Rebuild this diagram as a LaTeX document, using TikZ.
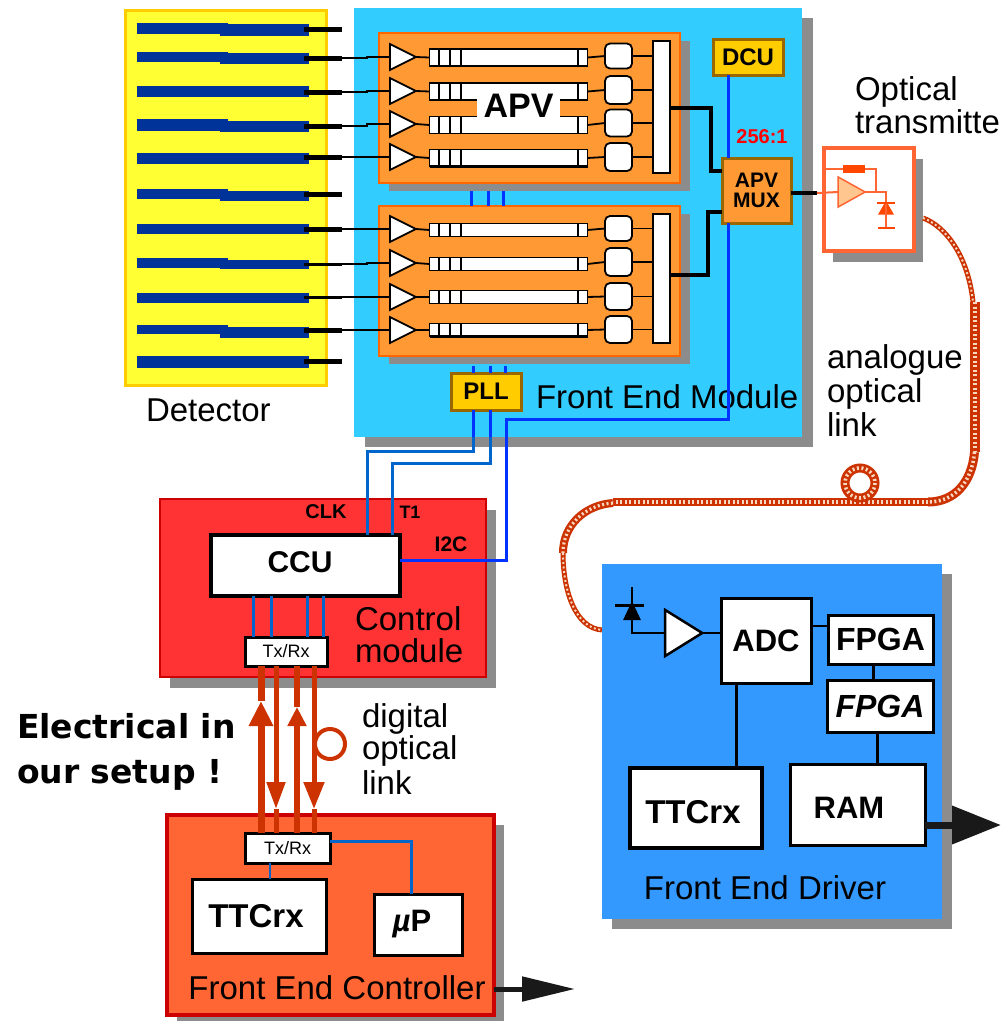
\documentclass[tikz,border=0pt]{standalone}
\usepackage{fontspec}
\setmainfont{Liberation Sans}
\newfontfamily\labelfont{DejaVu Sans}
\usetikzlibrary{arrows.meta,shadows,shapes.geometric,calc}
\definecolor{shadowgray}{HTML}{8C8C8C}
\definecolor{yellowbg}{HTML}{FFFF33}
\definecolor{goldbg}{HTML}{FFCC00}
\definecolor{brownline}{HTML}{996600}
\definecolor{stripblue}{HTML}{003399}
\definecolor{modulebg}{HTML}{33CCFF}
\definecolor{orangebg}{HTML}{FF9933}
\definecolor{orangeline}{HTML}{FF6600}
\definecolor{txline}{HTML}{FF6633}
\definecolor{busblue}{HTML}{0033FF}
\definecolor{ctrlblue}{HTML}{0066CC}
\definecolor{fiber}{HTML}{CC3300}
\definecolor{fiberdot}{HTML}{F8D8C0}
\definecolor{driverbg}{HTML}{3399FF}
\tikzset{
  every node/.style={inner sep=0pt,outer sep=0pt},
  boxsize/.style 2 args={minimum width=#1pt,minimum height=#2pt},
  shade/.style 2 args={drop shadow={shadow xshift=#1pt,shadow yshift=-#2pt,fill=shadowgray,opacity=1}},
  txt/.style={font=\fontsize{33}{33}\selectfont},
  bold/.style={font=\fontsize{#1}{#1}\selectfont\bfseries},
  block/.style={rectangle,draw=black,fill=white,line width=3pt},
  gold/.style={rectangle,draw=brownline,fill=goldbg,line width=3pt},
  apvbox/.style={rectangle,draw=orangeline,fill=orangebg,line width=2pt,boxsize={301}{150},shade={10}{8}},
  amp/.style={isosceles triangle,isosceles triangle stretches,draw=black,fill=white,line width=1.8pt},
  wire/.style={draw=black,line width=1.8pt},
  bus/.style={draw=busblue,line width=3pt},
  ctrl/.style={draw=ctrlblue,line width=3pt},
  link/.style={draw=fiber,line width=#1pt},
  fiberline/.style={draw=fiber,line width=#1pt,
    postaction={draw=fiberdot,line width=0.4*#1 pt,dash pattern=on 2pt off 2.5pt}},
}
\begin{document}
\begin{tikzpicture}[x=1pt,y=-1pt]
\useasboundingbox (0,0) rectangle (1001,1021);
% detector
\node[rectangle,draw=goldbg,fill=yellowbg,line width=3pt,boxsize={201}{375}] (detector) at (225.5,197.5) {};
\node[txt,anchor=base west] (detectorlabel) at (146,421) {Detector};
\foreach \yl/\hl/\yr/\hr/\ys/\ws [count=\i] in {
  28.5/11/30/12/29/5, 57/10/58.5/11/58/5, 91.5/11/91.5/11/92/5, 125/12/126.5/11/126/5,
  158.5/11/158.5/11/157/5, 194/10/196/10/194/5, 229/10/229/10/229/5, 263/10/264.5/9/264/3,
  298/10/298/10/297/3, 329.5/9/332.5/11/330/5, 362/12/362/12/361/5}{
  \fill[stripblue] (137,\yl-\hl/2) rectangle (228,\yl+\hl/2);
  \node[fill=stripblue,boxsize={89}{\hr}] (strip\i) at (264.5,\yr) {};
  \node[fill=black,boxsize={38}{\ws}] (stub\i) at (323,\ys) {};
}
% front end module
\node[rectangle,fill=modulebg,boxsize={448}{429},shade={11}{10}] (module) at (578,222.5) {};
\node[txt,anchor=base west] (modulelabel) at (536,408) {Front End Module};
\node[apvbox] (apvtop) at (529.5,108) {};
\node[apvbox] (apvbot) at (529.5,280.5) {};
\node[rectangle,draw=black,fill=white,line width=2pt,boxsize={17}{132}] (bartop) at (661.5,107) {};
\node[rectangle,draw=black,fill=white,line width=2pt,boxsize={17}{129}] (barbot) at (661.5,278.5) {};
\foreach \ya/\yr/\yb/\hr/\hb/\inp/\bar [count=\i] in {
  57/57.5/56/17/25/2/bartop, 91/91.5/90/17/28/3/bartop, 124/125/123/17/27/4/bartop, 157/158/157/17/28/5/bartop,
  229/230/228.5/13/25/7/barbot, 263/264/262/13/28/8/barbot, 297/297/296.5/13/27/9/barbot, 330/330/329.5/13/27/10/barbot}{
  \node[rectangle,draw=black,fill=white,line width=1.8pt,boxsize={158}{\hr}] (reg\i) at (508.5,\yr) {};
  \foreach \x in {439,450,461,578}
    \draw[black,line width=1.2pt] (\x,\yr-\hr/2) -- (\x,\yr+\hr/2);
  \node[amp,minimum width=26pt,minimum height=26pt] (amp\i) at (398,\ya) {};
  \node[rectangle,rounded corners=5pt,draw=black,fill=white,line width=1.8pt,boxsize={27}{\hb}] (buf\i) at (618.5,\yb) {};
  \draw[wire] (stub\inp.east) -- ++(25,0) |- (amp\i.west);
  \draw[wire] (amp\i.east) -- (reg\i.west);
  \draw[wire] (reg\i.east) -- (buf\i.west);
  \draw[wire] (buf\i.east) -- (buf\i.east -| \bar.west);
}
\draw[black,line width=3pt] (reg4.south west) -- (reg4.south east);
\draw[black,line width=3pt] (reg8.south west) -- (reg8.south east);
\node[bold=34,fill=white,minimum width=83pt,minimum height=17pt] (apvlabel) at (518.5,106) {APV};
\foreach \x in {471,488,503}
  \draw[bus] ([yshift=-8pt]\x,0 |- apvtop.south) -- (\x,0 |- apvbot.north);
\node[gold,bold=24,boxsize={70}{37}] (pll) at (486,391.5) {PLL};
\node[gold,bold=24,boxsize={70}{36}] (dcu) at (748,57) {DCU};
\node[rectangle,draw=brownline,fill=orangebg,line width=3pt,boxsize={69}{65},bold=21,align=center] (mux) at (756.5,190.5) {APV\\[-1pt]MUX};
\node[font=\fontsize{20}{20}\selectfont\bfseries,text=red] (ratio) at (762,137) {256:1};
\foreach \x in {473,490,505}
  \draw[bus] ([yshift=-10pt]\x,0 |- apvbot.south) -- (\x,0 |- pll.north);
\draw[black,line width=3.5pt] (bartop.east |- 0,108) -- (711,108) |- (mux.west |- 0,171);
\draw[black,line width=3.5pt] (barbot.east |- 0,275) -- (708,275) |- (mux.west |- 0,212);
\draw[bus] (dcu.south -| 728,0) -- (mux.north -| 728,0);
\draw[bus] (mux.south -| 728,0) -- (728,419) -- (506,419) -- (506,437);
% optical transmitter
\node[rectangle,draw=txline,fill=white,line width=3.5pt,boxsize={90}{103},shade={9}{11}] (txbox) at (869,199.5) {};
\node[txt,anchor=base west] (opticallabel) at (855,100) {Optical};
\node[txt,anchor=base west] (transmitlabel) at (855,133) {transmitte};
\node[isosceles triangle,isosceles triangle stretches,draw=txline,fill=orangebg!55!white,line width=1.5pt,minimum width=30pt,minimum height=27pt] (txamp) at (847,192) {};
\node[rectangle,fill=orangeline!70!red,boxsize={22}{8}] (txres) at (854,169) {};
\node[isosceles triangle,isosceles triangle stretches,shape border rotate=90,fill=orangeline!70!red,minimum width=16pt,minimum height=14pt] (txdiode) at (886,210) {};
\draw[black,line width=3.5pt] (mux.east |- 0,193) -- (817,193);
\draw[txline,line width=2pt] (817,193) -- (txamp.west);
\draw[txline,line width=1.5pt] (txbox.west |- txres) -- (txres.west);
\draw[txline,line width=1.5pt] (txres.east) -- (876,169) -- (876,192);
\draw[txline,line width=2pt] (txamp.east) -- (886,192) -- (886,228);
\draw[orangeline!70!red,line width=2pt] (877,203) -- (895,203);
\draw[orangeline!70!red,line width=2pt] (878,228) -- (895,228);
% fiber
\coordinate (fiberstart) at (923,218);
\draw[fiberline=5] (fiberstart) .. controls (945,226) and (968,255) .. (973,302);
\draw[fiberline=10] (974.5,302) -- (974.5,452);
\draw[fiberline=9] (974.5,452) .. controls (972,482) and (955,502) .. (928,502);
\draw[fiberline=8] (928,502) -- (613,502);
\draw[fiberline=9] (860,483) circle[radius=15];
\draw[fiberline=8] (613,503) .. controls (585,505) and (563,525) .. (563,553);
\draw[fiberline=5] (563,553) .. controls (563,590) and (575,628) .. (602,630);
\node[txt,anchor=base west] (analoguelabel) at (827,368) {analogue};
\node[txt,anchor=base west] (analoglinka) at (827,402) {optical};
\node[txt,anchor=base west] (analoglinkb) at (827,436) {link};
% control module
\node[rectangle,draw=red!80!black,fill=red!80!white,line width=2.5pt,boxsize={326}{178},shade={10}{11}] (control) at (323,588) {};
\node[block,line width=4pt,boxsize={189}{61}] (ccu) at (305.5,565.5) {};
\node[bold=30] (ccutext) at (300,562) {CCU};
\node[bold=20] (clk) at (326,512) {CLK};
\node[bold=18] (tone) at (410,512) {T1};
\node[bold=21] (itwoc) at (451,544) {I2C};
\node[txt,anchor=base west] (ctrllabela) at (355,630) {Control};
\node[txt,anchor=base west] (ctrllabelb) at (355,662) {module};
\node[block,boxsize={82}{29},font=\fontsize{18}{18}\selectfont] (txrxtop) at (286,651.5) {Tx/Rx};
\foreach \x in {253,271,307,323}
  \draw[ctrl] (\x,0 |- ccu.south) -- (\x,0 |- txrxtop.north);
\draw[bus] (473,0 |- pll.south) -- (473,437);
\draw[bus] (490,0 |- pll.south) -- (490,437);
\draw[ctrl] (473,437) -- (473,451) -- (367,451) -- (367,0 |- ccu.north);
\draw[ctrl] (490,437) -- (490,463) -- (392,463) -- (392,0 |- ccu.north);
\draw[busblue,line width=3pt] (506,437) -- (506,560) -- (ccu.east |- 0,560);
% front end controller
\node[rectangle,draw=red!80!black,fill=txline,line width=4.5pt,boxsize={327}{200},shade={10}{10}] (fec) at (330.5,915) {};
\node[txt,anchor=base] (feclabel) at (337,999) {Front End Controller};
\node[block,boxsize={85}{30},font=\fontsize{18}{18}\selectfont] (txrxbot) at (287.5,848) {Tx/Rx};
\node[block,boxsize={134}{74}] (ttcfec) at (259,916) {};
\node[bold=33] (ttcfectext) at (256,916) {TTCrx};
\node[block,boxsize={88}{61}] (micro) at (418,924.5) {};
\node[bold=31] (microtext) at (412,924) {{\itshape µ}P};
\draw[ctrl,line width=1.5pt] (270,0 |- txrxbot.south) -- (270,0 |- ttcfec.north);
\draw[ctrl] (txrxbot.east |- 0,841) -- (411,841) -- (411,0 |- micro.north);
\coordinate (fecout) at (575,989);
\draw[black!90,line width=5pt,-{Triangle[length=53pt,width=24pt]}] (fec.east |- fecout) -- (fecout);
% links between control module and controller
\foreach \x/\w/\tip/\len/\wid in {261/7/701/25/23,297/5.5/707/19/18}{
  \draw[link=\w] (\x,0 |- txrxtop.south) -- (\x,\tip);
  \draw[link=\w,-{Triangle[length=\len pt,width=\wid pt]},fiber] (\x,0 |- txrxbot.north) -- (\x,\tip);
}
\foreach \x/\w/\wid in {276/5/18,314/5/20}{
  \draw[link=\w] (\x,809) -- (\x,0 |- txrxbot.north);
  \draw[link=\w,-{Triangle[length=27pt,width=\wid pt]},fiber] (\x,0 |- txrxtop.south) -- (\x,809);
}
\draw[link=4] (330,744) circle[radius=15];
\node[bold=33,anchor=base west] (electriclabel) at (17,738) {\labelfont\bfseries Electrical in};
\node[bold=33,anchor=base west] (setuplabel) at (17,783) {\labelfont\bfseries our setup !};
\node[txt,anchor=base west] (digitallabel) at (362,727) {digital};
\node[txt,anchor=base west] (digitallinka) at (362,759) {optical};
\node[txt,anchor=base west] (digitallinkb) at (362,794) {link};
% front end driver
\node[rectangle,fill=driverbg,boxsize={340}{355},shade={10}{10}] (fed) at (772,741.5) {};
\node[txt,anchor=base] (fedlabel) at (765,899) {Front End Driver};
\node[block,bold=31,boxsize={90}{85}] (adc) at (766,640.5) {ADC};
\node[block,bold=32,boxsize={105}{49}] (fpgaa) at (880.5,639.5) {FPGA};
\node[block,bold=32,boxsize={106}{52}] (fpgab) at (880,706) {\itshape FPGA};
\node[block,boxsize={135}{81}] (ram) at (857.5,804.5) {};
\node[bold=31] (ramtext) at (849,808) {RAM};
\node[block,line width=3.5pt,boxsize={132}{80}] (ttcfed) at (696,808) {};
\node[bold=33] (ttcfedtext) at (693,812) {TTCrx};
\node[amp,minimum width=46pt,minimum height=37pt,line width=2.5pt] (fedamp) at (678,633) {};
\node[isosceles triangle,isosceles triangle stretches,shape border rotate=90,fill=black,minimum width=18pt,minimum height=19pt] (feddiode) at (632,614.5) {};
\coordinate (diodetop) at (632,587);
\draw[black,line width=2.5pt] (diodetop) -- (632,633) -- (fedamp.west);
\draw[black,line width=3pt] (615,605) -- (644,605);
\draw[black,line width=2.5pt] (fedamp.east) -- (adc.west |- fedamp.east);
\draw[black,line width=2.5pt] (adc.east |- 0,626) -- (fpgaa.west |- 0,626);
\draw[black,line width=3pt] (873,0 |- fpgaa.south) -- (873,0 |- fpgab.north);
\draw[black,line width=3pt] (877,0 |- fpgab.south) -- (877,0 |- ram.north);
\draw[black,line width=3pt] (736,0 |- adc.south) -- (736,0 |- ttcfed.north);
\coordinate (ramout) at (1001,825);
\draw[black!90,line width=7pt,-{Triangle[length=49pt,width=37pt]}] (ram.east |- ramout) -- (ramout);
\end{tikzpicture}
\end{document}
